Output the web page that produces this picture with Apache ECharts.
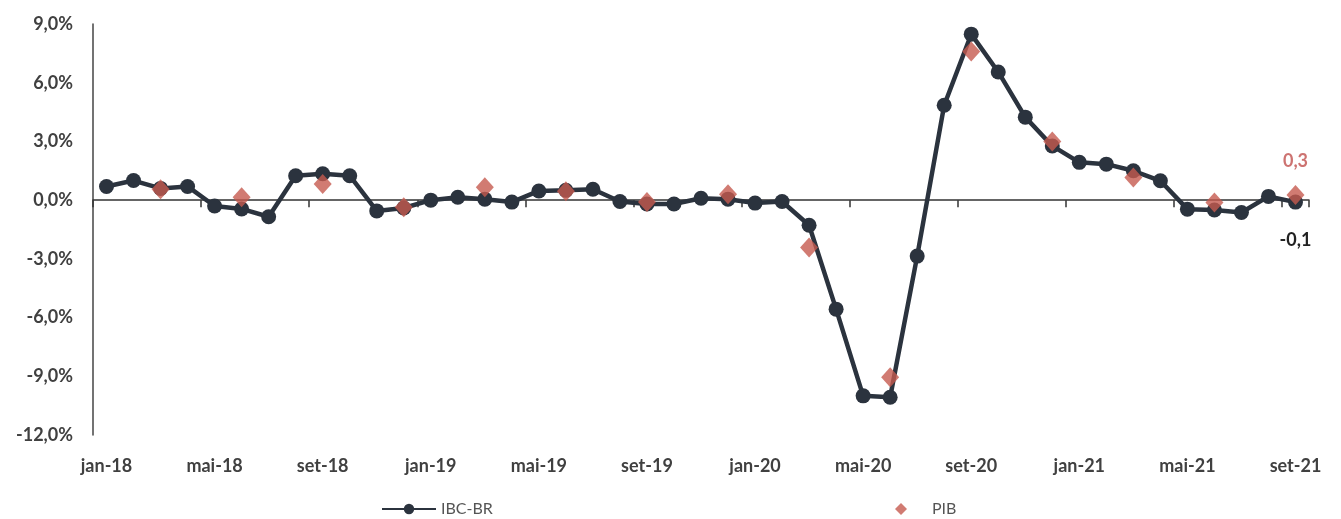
<!DOCTYPE html>
<html>
<head>
<meta charset="utf-8">
<script src="https://cdn.jsdelivr.net/npm/echarts@6/dist/echarts.min.js"></script>
<style>html,body{margin:0;padding:0;background:#fff}#c{width:1341px;height:519px}</style>
</head>
<body>
<div id="c"></div>
<script>
const months = ['jan','fev','mar','abr','mai','jun','jul','ago','set','out','nov','dez'];
const categories = [];
for (const y of ['18','19','20','21']) for (const m of months) categories.push(m + '-' + y);
categories.length = 45; // jan-18 .. set-21

const ibcBr = [
  0.7, 1.0, 0.6, 0.7, -0.3, -0.45, -0.85, 1.25, 1.35, 1.25, -0.55, -0.4,
  0.0, 0.15, 0.05, -0.1, 0.47, 0.5, 0.56, -0.07, -0.2, -0.2, 0.1, 0.05,
  -0.15, -0.07, -1.28, -5.57, -10.0, -10.07, -2.86, 4.85, 8.48, 6.55, 4.24, 2.77,
  1.93, 1.84, 1.5, 0.99, -0.46, -0.5, -0.63, 0.19, -0.1
];
const pib = [
  null, null, 0.56, null, null, 0.15, null, null, 0.82, null, null, -0.36,
  null, null, 0.66, null, null, 0.45, null, null, -0.1, null, null, 0.3,
  null, null, -2.42, null, null, -9.05, null, null, 7.6, null, null, 3.0,
  null, null, 1.16, null, null, -0.12, null, null, 0.26
];
const yTicks = {min: -12, max: 9, interval: 3};

const fmt = v => v.toFixed(1).replace('.', ',');
const last = categories.length - 1;

const chart = echarts.init(document.getElementById('c'), null, {renderer: 'canvas'});
const font = 'Lato, "Open Sans", sans-serif';
chart.setOption({
  animation: false,
  grid: {left: 93, right: 32, top: 24, bottom: 84, containLabel: false},
  legend: [
    {data: ['IBC-BR'], left: 376, top: 496, itemWidth: 54, itemHeight: 13,
     textStyle: {fontFamily: font, fontSize: 16, color: '#555'}},
    {data: ['PIB'], left: 890, top: 496, itemWidth: 12, itemHeight: 12,
     textStyle: {fontFamily: font, fontSize: 16, color: '#555', padding: [0, 0, 0, 20]}}
  ],
  xAxis: [
    {type: 'category', data: categories, boundaryGap: true,
     axisLine: {show: false, onZero: false}, axisTick: {show: false},
     axisLabel: {interval: 3, fontFamily: font, fontSize: 18, fontWeight: 'bold', color: '#404040', margin: 22},
     splitLine: {show: false}},
    {type: 'category', data: categories, boundaryGap: true, position: 'bottom',
     axisLine: {show: true, onZero: true, lineStyle: {color: '#333', width: 1.5}},
     axisTick: {show: true, interval: 3, length: 7, lineStyle: {color: '#333', width: 1.5}},
     axisLabel: {show: false}, splitLine: {show: false}}
  ],
  yAxis: {
    type: 'value', min: yTicks.min, max: yTicks.max, interval: yTicks.interval,
    axisLine: {show: true, onZero: false, lineStyle: {color: '#444', width: 1.5}},
    axisTick: {show: false}, splitLine: {show: false},
    axisLabel: {fontFamily: font, fontSize: 18, fontWeight: 'bold', color: '#404040', margin: 20,
                formatter: v => fmt(v) + '%'}
  },
  series: [
    {name: 'IBC-BR', type: 'line', xAxisIndex: 0,
     data: ibcBr.map((v, i) => i === last ? {value: v, label: {show: true, position: 'bottom', distance: 22,
        formatter: p => fmt(p.value), fontFamily: font, fontSize: 18, fontWeight: 'bold', color: '#222'}} : v),
     symbol: 'circle', symbolSize: 15, z: 2,
     lineStyle: {color: '#2b333e', width: 4.5},
     itemStyle: {color: '#2b333e'}},
    {name: 'PIB', type: 'scatter', xAxisIndex: 0,
     data: pib.map((v, i) => i === last ? {value: v, label: {show: true, position: 'top', distance: 15,
        formatter: p => fmt(p.value), fontFamily: font, fontSize: 18, fontWeight: 'bold', color: '#c0504d'}} : v),
     symbol: 'diamond', symbolSize: [18, 20], z: 3,
     itemStyle: {color: '#c65a4f'}}
  ]
});
</script>
</body>
</html>
